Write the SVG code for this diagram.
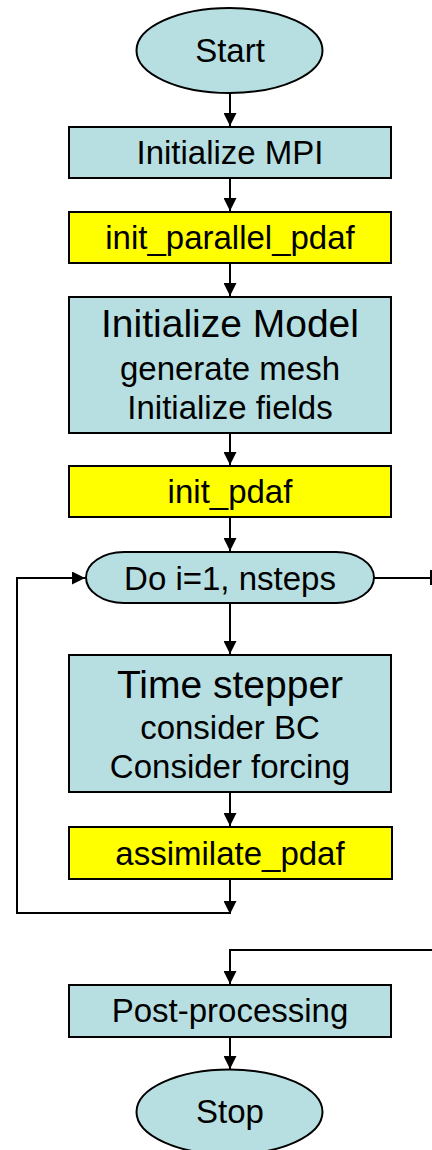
<svg xmlns="http://www.w3.org/2000/svg" width="432" height="1150" viewBox="0 0 432 1150">
<style>
.b{fill:#B7DFE1;stroke:#000;stroke-width:2}
.y{fill:#FFFF00;stroke:#000;stroke-width:2}
.t{font-family:"Liberation Sans",Arial,sans-serif;fill:#000;text-anchor:middle;font-size:33px}
.h{font-size:39px}
.c{fill:none;stroke:#000;stroke-width:2}
</style>
<defs>
<marker id="ah" viewBox="0 0 13 13" refX="13" refY="6.5" markerWidth="13" markerHeight="13" markerUnits="userSpaceOnUse" orient="auto">
<path d="M0,0 L13,6.5 L0,13 Z" fill="#000"/>
</marker>
</defs>
<g id="connectors">
<line class="c" x1="230" y1="93" x2="230" y2="126" marker-end="url(#ah)"/>
<line class="c" x1="230" y1="178" x2="230" y2="211" marker-end="url(#ah)"/>
<line class="c" x1="230" y1="263" x2="230" y2="296" marker-end="url(#ah)"/>
<line class="c" x1="230" y1="433" x2="230" y2="465" marker-end="url(#ah)"/>
<line class="c" x1="230" y1="517" x2="230" y2="551" marker-end="url(#ah)"/>
<line class="c" x1="230" y1="603" x2="230" y2="654" marker-end="url(#ah)"/>
<line class="c" x1="230" y1="792" x2="230" y2="826" marker-end="url(#ah)"/>
<line class="c" x1="230" y1="879" x2="230" y2="914" marker-end="url(#ah)"/>
<polyline class="c" points="230,913 17,913 17,578 85,578" marker-end="url(#ah)"/>
<line class="c" x1="374" y1="578" x2="432" y2="578"/>
<line class="c" x1="431" y1="570" x2="431" y2="585"/>
<polyline class="c" points="432,950 230,950 230,984" marker-end="url(#ah)"/>
<line class="c" x1="230" y1="1037" x2="230" y2="1069" marker-end="url(#ah)"/>
</g>
<g id="start">
<ellipse class="b" cx="229.5" cy="50.5" rx="93" ry="42.5"/>
<text class="t" x="230" y="62">Start</text>
</g>
<g id="init-mpi">
<rect class="b" x="69" y="127" width="322" height="51"/>
<text class="t" x="230" y="164">Initialize MPI</text>
</g>
<g id="init-parallel-pdaf">
<rect class="y" x="69" y="212" width="322" height="51"/>
<text class="t" x="230" y="249">init_parallel_pdaf</text>
</g>
<g id="init-model">
<rect class="b" x="69" y="297" width="322" height="136"/>
<text class="t h" x="230" y="337">Initialize Model</text>
<text class="t" x="230" y="380">generate mesh</text>
<text class="t" x="230" y="419">Initialize fields</text>
</g>
<g id="init-pdaf">
<rect class="y" x="69" y="466" width="322" height="51"/>
<text class="t" x="230" y="503">init_pdaf</text>
</g>
<g id="do-loop">
<rect class="b" x="86" y="552" width="288" height="51" rx="38" ry="25.5"/>
<text class="t" x="230" y="590">Do i=1, nsteps</text>
</g>
<g id="time-stepper">
<rect class="b" x="69" y="655" width="322" height="137"/>
<text class="t h" x="230" y="698">Time stepper</text>
<text class="t" x="230" y="739">consider BC</text>
<text class="t" x="230" y="778">Consider forcing</text>
</g>
<g id="assimilate-pdaf">
<rect class="y" x="69" y="827" width="323" height="52"/>
<text class="t" x="230" y="865">assimilate_pdaf</text>
</g>
<g id="post-processing">
<rect class="b" x="69" y="985" width="322" height="52"/>
<text class="t" x="230" y="1022">Post-processing</text>
</g>
<g id="stop">
<ellipse class="b" cx="229.5" cy="1112" rx="93" ry="42.5"/>
<text class="t" x="230" y="1123">Stop</text>
</g>
</svg>
